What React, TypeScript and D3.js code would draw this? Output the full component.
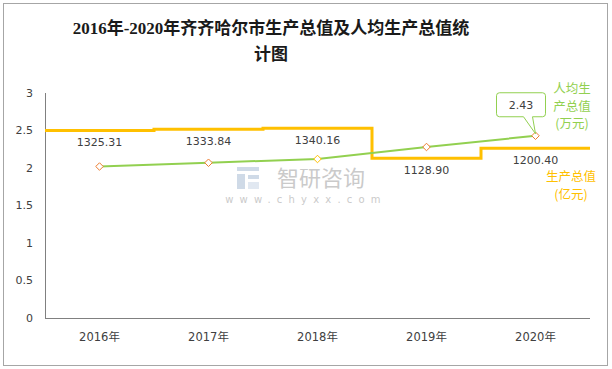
import React from 'react';
import * as d3 from 'd3';

const years = ['2016年', '2017年', '2018年', '2019年', '2020年'];
const gdp = [1325.31, 1333.84, 1340.16, 1128.9, 1200.4];
const perCapita = [2.02, 2.07, 2.12, 2.28, 2.43];
const markerColors = ['#ED7D31', '#ED7D31', '#FFC000', '#ED7D31', '#ED7D31'];
const yTicks = [0, 0.5, 1, 1.5, 2, 2.5, 3];

const W = 612;
const H = 369;
const left = 45;
const right = 590;
const top = 93;
const bottom = 318;

const numFont = '"DejaVu Sans", "Noto Sans CJK SC", sans-serif';
const cjkFont = '"Noto Sans CJK SC", sans-serif';

const App = () => {
  const x = d3.scaleBand().domain(years).range([left, right]).padding(0);
  const y = d3.scaleLinear().domain([0, 3]).range([bottom, top]);
  // hidden secondary axis for GDP (亿元)
  const y2 = d3.scaleLinear().domain([0, 1590]).range([bottom, top]);
  const bw = x.bandwidth();
  const cx = (d) => x(d) + bw / 2;

  const stepPts = [];
  years.forEach((yr, i) => {
    stepPts.push([x(yr), y2(gdp[i])]);
    stepPts.push([x(yr) + bw, y2(gdp[i])]);
  });
  const stepPath = d3.line()(stepPts);

  const greenPath = d3.line()(years.map((yr, i) => [cx(yr), y(perCapita[i])]));
  const diamond = d3.symbol(d3.symbolDiamond2, 36)();

  // callout for last point
  const lx = cx(years[4]);
  const ly = y(perCapita[4]);
  const bx0 = lx - 39, bx1 = lx + 10, by0 = ly - 43, by1 = ly - 19, r = 3;
  const callout =
    `M${bx0 + r},${by0} H${bx1 - r} Q${bx1},${by0} ${bx1},${by0 + r} V${by1 - r} ` +
    `Q${bx1},${by1} ${bx1 - r},${by1} H${lx - 3} L${lx},${ly - 2} L${lx - 12},${by1} ` +
    `H${bx0 + r} Q${bx0},${by1} ${bx0},${by1 - r} V${by0 + r} Q${bx0},${by0} ${bx0 + r},${by0} Z`;

  return (
    <svg width={W} height={H} style={{ position: 'absolute', left: 0, top: 0, background: '#fff' }}>
      <rect x={3.5} y={3.5} width={604} height={362} fill="#fff" stroke="#a6a6a6" />

      <text x={271} y={34} textAnchor="middle" fontSize={17} fontWeight="bold"
        fontFamily='"Liberation Serif", "Noto Sans CJK SC", serif' fill="#1a1a1a">
        2016年-2020年齐齐哈尔市生产总值及人均生产总值统
      </text>
      <text x={271} y={60} textAnchor="middle" fontSize={17} fontWeight="bold"
        fontFamily='"Liberation Serif", "Noto Sans CJK SC", serif' fill="#1a1a1a">
        计图
      </text>

      {/* watermark */}
      <g opacity={0.55}>
        <rect x={237} y={167} width={22} height={4} fill="#a9bcd4" />
        <rect x={237} y={174} width={8} height={15} fill="#a9bcd4" />
        <rect x={248} y={175} width={11} height={4} fill="#a9bcd4" />
        <rect x={248} y={182} width={11} height={7} fill="#c9d6e6" />
        <text x={321} y={186} textAnchor="middle" fontSize={22} fontFamily={cjkFont} fill="#a0a0a0">智研咨询</text>
        <text x={306} y={203} textAnchor="middle" fontSize={10} letterSpacing={6.2} fontFamily={numFont} fill="#a0a0a0">www.chyxx.com</text>
      </g>

      {/* axes */}
      <line x1={left + 0.5} x2={left + 0.5} y1={top} y2={bottom} stroke="#808080" />
      <line x1={left} x2={right} y1={bottom + 0.5} y2={bottom + 0.5} stroke="#808080" />
      {yTicks.map((t) => (
        <text key={t} x={33} y={y(t)} dy="0.35em" textAnchor="end" fontSize={11} fontFamily={numFont} fill="#404040">
          {t}
        </text>
      ))}
      {years.map((yr) => (
        <text key={yr} x={cx(yr)} y={341} textAnchor="middle" fontSize={11.5} fontFamily={numFont} fill="#404040">
          {yr}
        </text>
      ))}

      {/* GDP step line */}
      <path d={stepPath} fill="none" stroke="#FFC000" strokeWidth={3} />
      {years.map((yr, i) => (
        <text key={yr} x={cx(yr)} y={y2(gdp[i]) + 16} textAnchor="middle" fontSize={11} fontFamily={numFont} fill="#404040">
          {gdp[i].toFixed(2)}
        </text>
      ))}

      {/* per capita line */}
      <path d={greenPath} fill="none" stroke="#92D050" strokeWidth={2} />
      {years.map((yr, i) => (
        <path key={yr} d={diamond} transform={`translate(${cx(yr)},${y(perCapita[i])})`}
          fill="#fff" stroke={markerColors[i]} strokeWidth={1} />
      ))}

      <path d={callout} fill="#fff" stroke="#92D050" strokeWidth={1} />
      <text x={(bx0 + bx1) / 2} y={(by0 + by1) / 2} dy="0.35em" textAnchor="middle" fontSize={11} fontFamily={numFont} fill="#404040">
        {perCapita[4].toFixed(2)}
      </text>

      {/* legend labels */}
      <g fontSize={12.5} fontFamily={cjkFont} textAnchor="middle">
        <text x={572} y={89} dy="0.35em" fill="#92D050">人均生</text>
        <text x={572} y={106.5} dy="0.35em" fill="#92D050">产总值</text>
        <text x={572} y={124} dy="0.35em" fill="#92D050">(万元)</text>
        <text x={571} y={177} dy="0.35em" fill="#FFC000">生产总值</text>
        <text x={571} y={195} dy="0.35em" fill="#FFC000">(亿元)</text>
      </g>
    </svg>
  );
};

export default App;
